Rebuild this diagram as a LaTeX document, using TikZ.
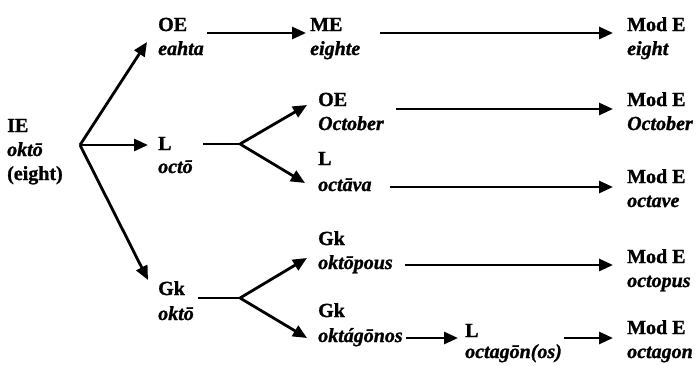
\documentclass[tikz,border=0pt]{standalone}
\usepackage{fontspec}
\setmainfont{Liberation Serif}[BoldFeatures={FakeBold=1.2},BoldItalicFeatures={FakeBold=1.2}]
\usetikzlibrary{arrows.meta,calc}
\begin{document}
\begin{tikzpicture}[x=1pt,y=-1pt,
  lang/.style={anchor=base west, inner sep=0pt, font=\fontsize{20}{23}\selectfont\bfseries},
  word/.style={anchor=base west, inner sep=0pt, font=\fontsize{20}{23}\selectfont\bfseries\itshape},
  link/.style={line width=2.8pt, -{Triangle[length=14pt,width=12pt]}},
  stem/.style={line width=2.8pt}]
\useasboundingbox[fill=white] (0,0) rectangle (700,365);

% Indo-European root
\node[lang] (ie) at (7,132) {IE};
\node[word] (ieword) at (7,156) {oktō};
\node[lang] (iegloss) at (7,180) {(eight)};
\coordinate (iefork) at (80,145);

% row 1: eight
\node[lang] (oe1) at (158,31) {OE};
\node[word] (eahta) at (158,55) {eahta};
\node[lang] (me) at (310,31) {ME};
\node[word] (eighte) at (310,55) {eighte};
\node[lang] (mod1) at (627,31) {Mod E};
\node[word] (eight) at (627,55) {eight};

% Latin branch
\node[lang] (l1) at (158,150) {L};
\node[word] (octo) at (158,173) {octō};
\coordinate (lfork) at (240,144);

% row 2: October
\node[lang] (oe2) at (318,106) {OE};
\node[word] (october) at (318,130) {October};
\node[lang] (mod2) at (627,106) {Mod E};
\node[word] (octobere) at (627,130) {October};

% row 3: octave
\node[lang] (l2) at (318,165) {L};
\node[word] (octava) at (318,191) {octāva};
\node[lang] (mod3) at (627,183) {Mod E};
\node[word] (octave) at (627,207) {octave};

% Greek branch
\node[lang] (gk1) at (158,295) {Gk};
\node[word] (okto) at (158,320) {oktō};
\coordinate (gkfork) at (240,298);

% row 4: octopus
\node[lang] (gk2) at (318,245) {Gk};
\node[word] (oktopous) at (318,269) {oktōpous};
\node[lang] (mod4) at (627,263) {Mod E};
\node[word] (octopus) at (627,287) {octopus};

% row 5: octagon
\node[lang] (gk3) at (318,317) {Gk};
\node[word] (oktagonos) at (318,342) {oktágōnos};
\node[lang] (l3) at (465,337) {L};
\node[word] (octagonos) at (465,358) {octagōn(os)};
\node[lang] (mod5) at (627,334) {Mod E};
\node[word] (octagon) at (627,358) {octagon};

% connectors from the root
\draw[link] (iefork) -- ($(oe1.base west)+(-11,11)$);
\draw[link] (iefork) -- ($(l1.base west)+(-10,-5)$);
\draw[link] (iefork) -- ($(gk1.base west)+(-10,-15)$);

% row 1
\draw[link] ($(eahta.base east)+(3,-22)$) -- ($(me.base west)+(-4,2)$);
\draw[link] ($(eighte.base east)+(20,-22)$) -- ($(mod1.base west)+(-14,2)$);

% Latin fork
\draw[stem] ($(octo.base east)+(10,-29)$) -- (lfork);
\draw[link] (lfork) -- ($(oe2.base west)+(-11,-1)$);
\draw[link] (lfork) -- ($(octava.base west)+(-13,-8)$);
\draw[link] ($(october.base east)+(12,-21)$) -- ($(mod2.base west)+(-14,3)$);
\draw[link] ($(octava.base east)+(18,-4)$) -- ($(mod3.base west)+(-14,4)$);

% Greek fork
\draw[stem] ($(okto.base east)+(4,-22)$) -- (gkfork);
\draw[link] (gkfork) -- ($(oktopous.base west)+(-11,-11)$);
\draw[link] (gkfork) -- ($(oktagonos.base west)+(-11,-4)$);
\draw[link] ($(oktopous.base east)+(12,-4)$) -- ($(mod4.base west)+(-14,2)$);
\draw[link] ($(oktagonos.base east)+(3,-4)$) -- ($(l3.base west)+(-7,1)$);
\draw[link] ($(octagonos.base east)+(2,-20)$) -- ($(mod5.base west)+(-14,4)$);
\end{tikzpicture}
\end{document}
